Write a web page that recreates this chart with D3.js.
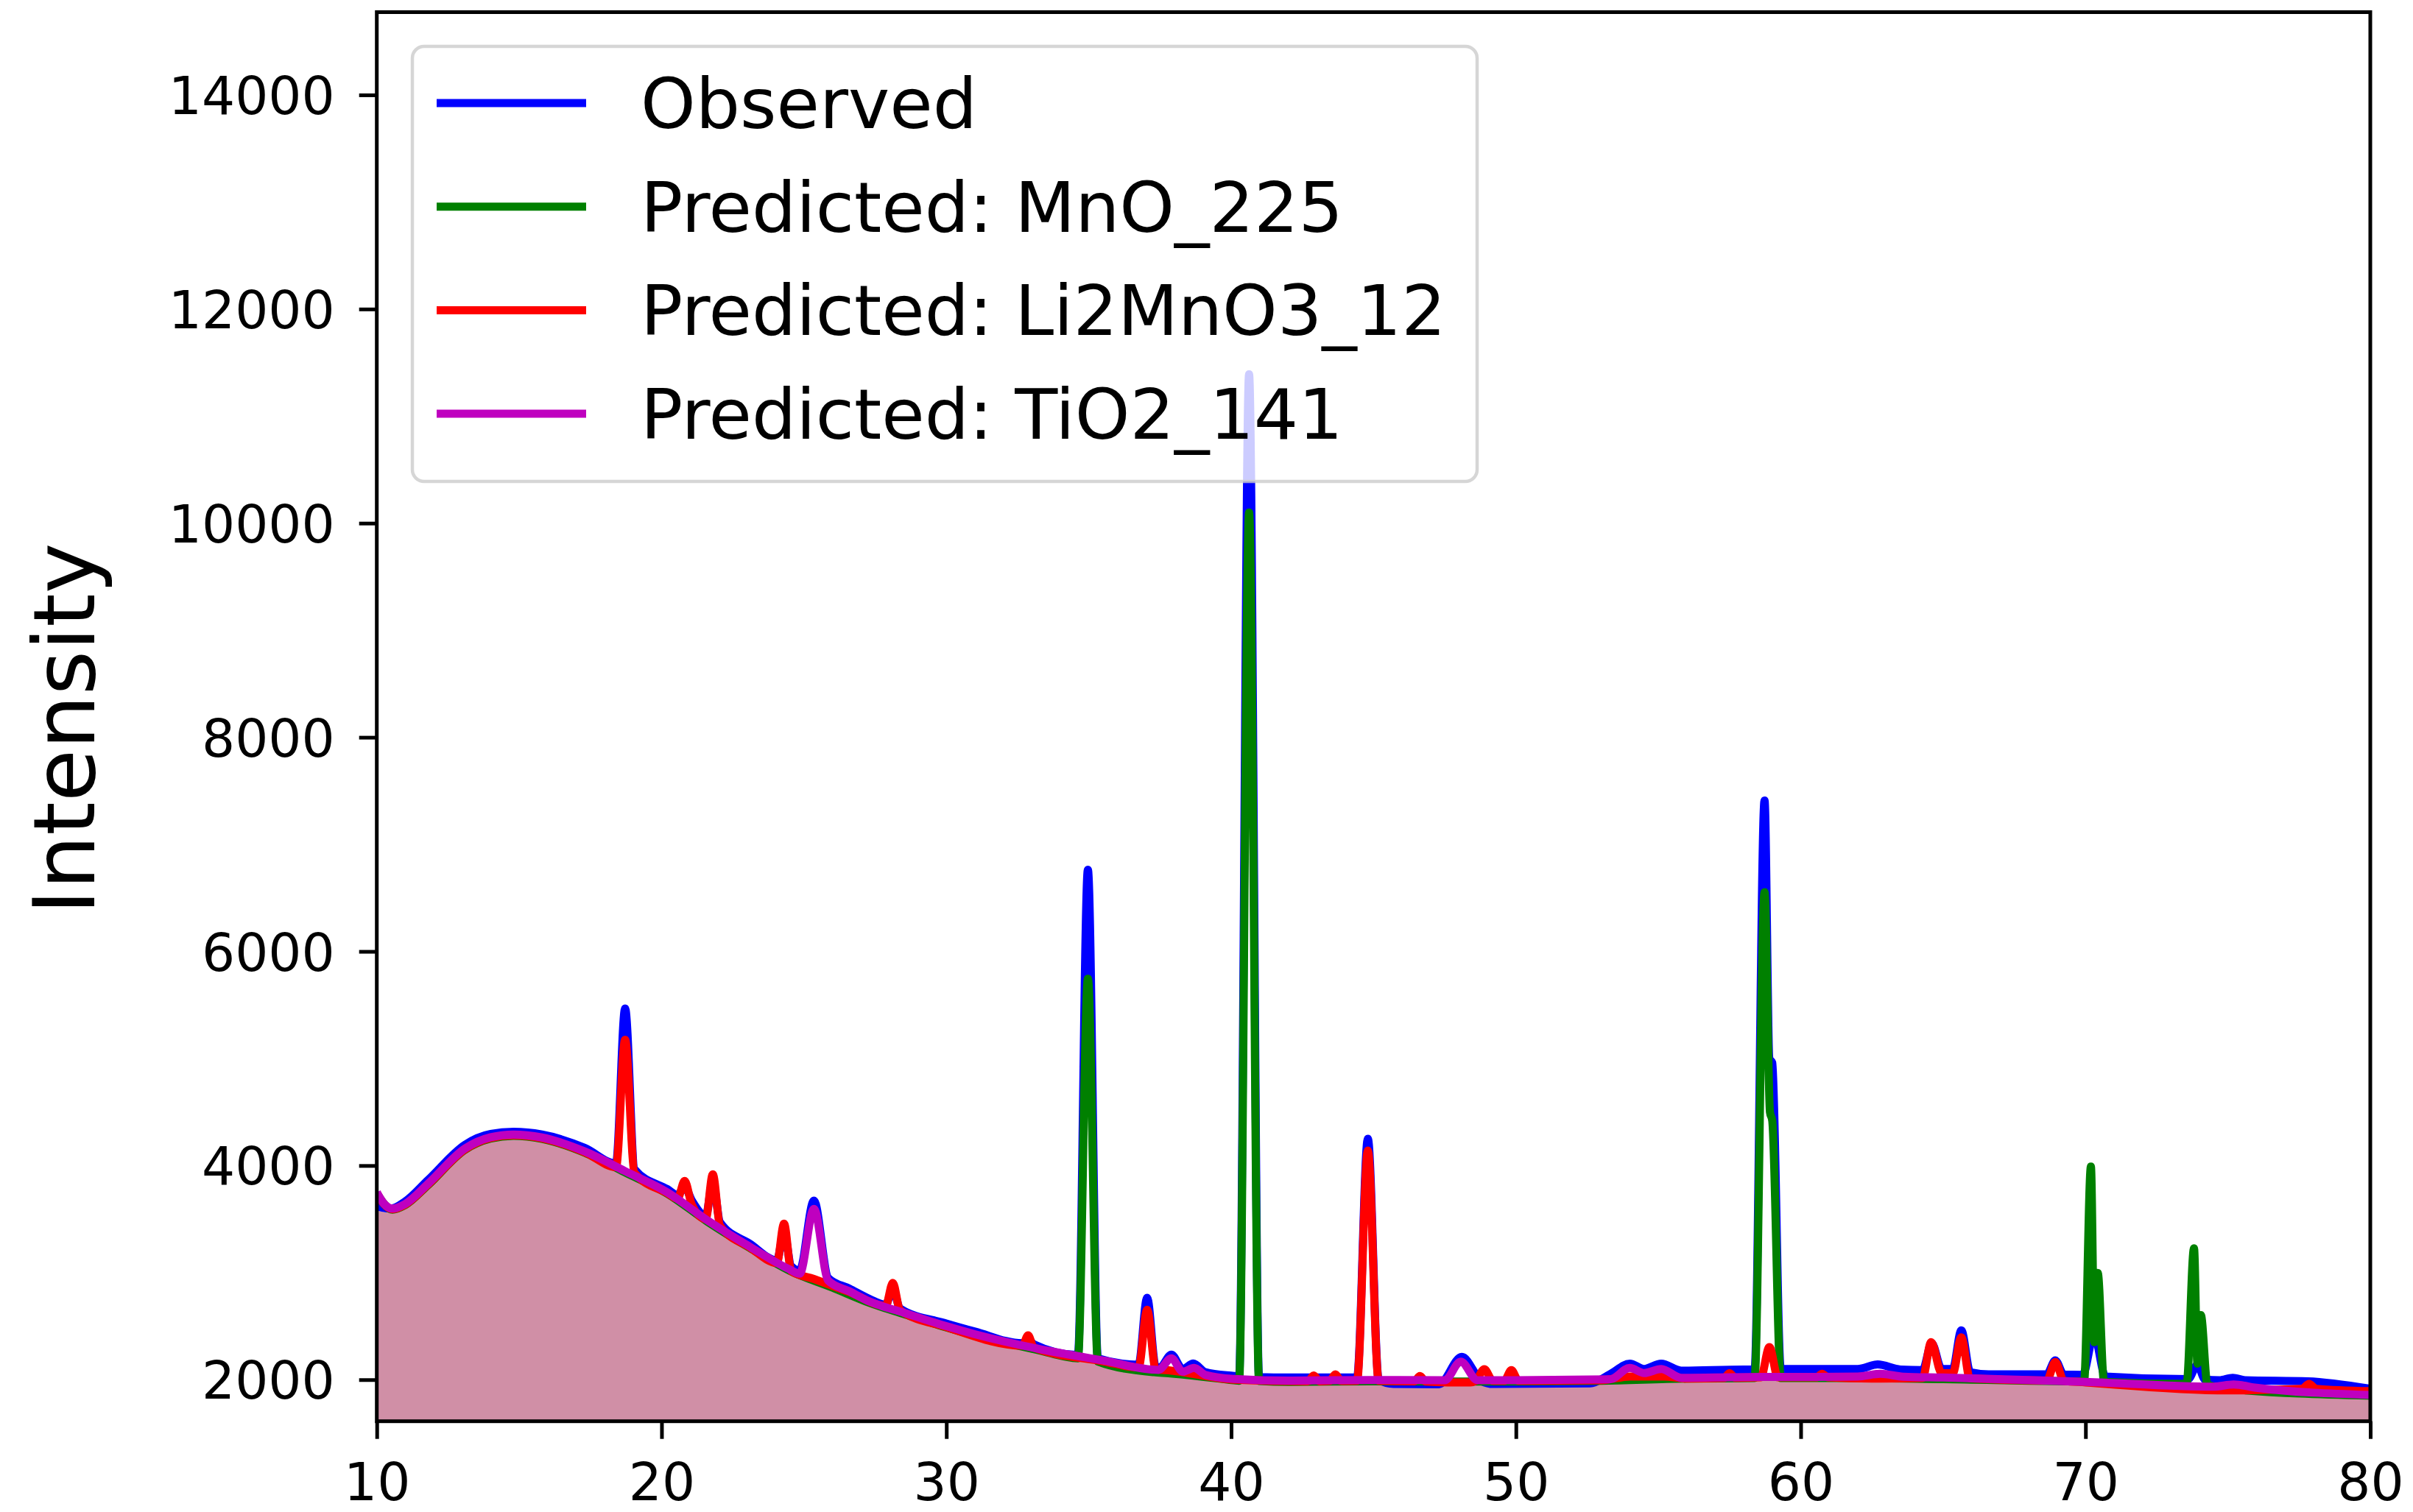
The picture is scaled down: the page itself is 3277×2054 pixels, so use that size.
<!DOCTYPE html>
<html>
<head>
<meta charset="utf-8">
<script src="https://cdnjs.cloudflare.com/ajax/libs/d3/7.8.5/d3.min.js"></script>
<style>
  body { margin: 0; background: #fff; }
  svg { display: block; }
  text { font-family: "DejaVu Sans", sans-serif; }
</style>
</head>
<body>
<div id="chart"></div>
<script>
// tick labels
var xTicks = [10, 20, 30, 40, 50, 60, 70, 80];
var yTicks = [2000, 4000, 6000, 8000, 10000, 12000, 14000];

var seriesNames = ['Observed', 'Predicted: MnO_225', 'Predicted: Li2MnO3_12', 'Predicted: TiO2_141'];
var seriesColors = ['#0000ff', '#008000', '#ff0000', '#bf00bf'];

// shaded background under the patterns [2theta, intensity]
var background = [
  [10, 3580], [10.5, 3560], [11, 3605], [11.8, 3795], [13.1, 4125], [14, 4230], [14.8, 4255],
  [15.8, 4228], [17.3, 4098], [18.7, 3915], [20.2, 3715], [21.6, 3455], [23.1, 3207], [24.5, 2995],
  [26, 2835], [27.3, 2695], [28.5, 2590], [30, 2465], [31, 2390], [33.2, 2255], [35.5, 2145],
  [37.8, 2040], [40.1, 1972], [42, 1957], [45, 1962], [50, 1960], [53, 1965], [56, 1985],
  [60, 1990], [65, 1985], [70, 1945], [75, 1885], [80, 1826]
];

var observed = [
  [10, 3620], [10.5, 3598], [11, 3665], [11.8, 3865], [13.1, 4195], [14, 4295], [14.8, 4315],
  [15.8, 4290], [17.3, 4165], [18.4, 4020], [18.72, 5467], [19.05, 3965], [20.2, 3780],
  [20.56, 3725], [20.81, 3800], [21.06, 3675], [21.55, 3530], [21.8, 3850], [22.05, 3470],
  [23.1, 3270], [24.05, 3115], [24.3, 3380], [24.55, 3060], [24.85, 3020], [25.35, 3672],
  [25.85, 2950], [26.6, 2850], [27.3, 2755], [27.87, 2700], [28.12, 2850], [28.37, 2665],
  [30, 2525], [31, 2450], [32.67, 2340], [32.87, 2380], [33.07, 2330], [34.62, 2230],
  [34.97, 6763], [35.32, 2200], [36.75, 2140], [37.05, 2765], [37.35, 2120], [37.5, 2115],
  [37.9, 2234], [38.3, 2100], [38.67, 2151], [39.1, 2070], [40.1, 2035], [40.28, 2030],
  [40.63, 11390], [40.98, 2025], [42, 2020], [44.42, 2020], [44.8, 4250], [45.18, 2000],
  [45.7, 1960], [47.3, 1958], [48.1, 2213], [48.8, 1985], [49.2, 1960], [52.6, 1965],
  [53.3, 2050], [54, 2150], [54.5, 2100], [55.1, 2150], [55.8, 2085], [58, 2095],
  [58.38, 2095], [58.73, 7410], [58.9, 5000], [59.0, 4960], [59.3, 2100], [60, 2100],
  [62, 2100], [62.7, 2142], [63.5, 2095], [64.28, 2090], [64.6, 2340], [64.95, 2100],
  [65.34, 2100], [65.64, 2460], [65.95, 2070], [66.6, 2050], [68.64, 2050], [68.94, 2180],
  [69.24, 2048], [69.9, 2045], [70.3, 2420], [70.7, 2030], [73.6, 2005], [73.93, 2140],
  [74.2, 2000], [74.7, 1995], [75.17, 2018], [75.6, 1995], [77.8, 1985], [80, 1915]
];

var mno = [
  [10, 3740], [10.55, 3588], [11, 3632], [11.8, 3818], [13.1, 4148], [14, 4252], [14.8, 4278],
  [15.8, 4250], [17.3, 4120], [18.7, 3938], [20.2, 3738], [21.6, 3478], [23.1, 3230],
  [24.5, 3018], [26, 2860], [27.3, 2718], [28.5, 2614], [30, 2488], [31, 2413], [33.2, 2278],
  [34.62, 2200], [34.97, 5746], [35.32, 2170], [37.3, 2070], [37.8, 2060], [40.1, 1995],
  [40.28, 1990], [40.63, 10100], [40.98, 1988], [42, 1980], [45, 1985], [50, 1983],
  [53, 1990], [56, 2010], [58.38, 2015], [58.73, 6554], [58.92, 4500], [59.0, 4420],
  [59.3, 2015], [62, 2015], [65, 2005], [69.95, 1985], [70.19, 3990], [70.31, 2350],
  [70.43, 2997], [70.65, 1980], [73.55, 1960], [73.81, 3228], [73.93, 2150], [74.05, 2604],
  [74.28, 1955], [75, 1915], [80, 1850]
];

var li2mno3 = [
  [10, 3745], [10.25, 3640], [10.55, 3592], [11, 3636], [11.8, 3822], [13.1, 4152], [14, 4258],
  [14.8, 4283], [15.8, 4255], [17.3, 4124], [18.4, 3985], [18.72, 5175], [19.05, 3930],
  [20.2, 3742], [20.56, 3690], [20.81, 3856], [21.06, 3635], [21.55, 3500], [21.8, 3918],
  [22.05, 3440], [23.1, 3235], [24.05, 3090], [24.3, 3457], [24.55, 3015], [25.35, 2940],
  [26.6, 2818], [27.87, 2688], [28.12, 2905], [28.37, 2650], [30, 2492], [32.67, 2318],
  [32.87, 2414], [33.07, 2300], [35.5, 2172], [36.75, 2115], [37.05, 2653], [37.35, 2098],
  [37.9, 2085], [40.1, 2000], [42.7, 1985], [42.9, 2040], [43.1, 1985], [43.46, 1988],
  [43.66, 2050], [43.86, 1988], [44.42, 1990], [44.8, 4140], [45.18, 1990], [46.43, 1985],
  [46.63, 2035], [46.83, 1982], [47.6, 1975], [48.4, 1975], [48.59, 1990], [48.89, 2098],
  [49.19, 1990], [49.59, 1990], [49.84, 2090], [50.09, 1990], [53, 1995], [54, 2030],
  [55.2, 2030], [56, 2010], [57.3, 2015], [57.5, 2060], [57.7, 2018], [58.6, 2022],
  [58.9, 2305], [59.2, 2022], [60.55, 2022], [60.75, 2055], [60.95, 2022], [62.8, 2010],
  [64.28, 2015], [64.58, 2350], [64.95, 2060], [65.34, 2060], [65.64, 2396], [65.94, 2012],
  [68.64, 1992], [68.94, 2165], [69.24, 1990], [70, 1975], [75, 1900], [77.6, 1915],
  [77.85, 1960], [78.1, 1915], [80, 1893]
];

var tio2 = [
  [10, 3750], [10.25, 3645], [10.55, 3598], [11, 3642], [11.8, 3830], [13.1, 4160], [14, 4265],
  [14.8, 4290], [15.8, 4262], [17.3, 4132], [18.7, 3950], [20.2, 3750], [21.6, 3490],
  [23.1, 3242], [24.5, 3030], [24.85, 2990], [25.35, 3595], [25.85, 2925], [26.6, 2825],
  [27.3, 2730], [28.5, 2626], [30, 2500], [31, 2425], [33.2, 2290], [35.5, 2180],
  [37.45, 2092], [37.9, 2200], [38.3, 2075], [38.7, 2110], [39.1, 2045], [40.1, 2007],
  [42, 1992], [45, 1997], [47.5, 1995], [48.06, 2168], [48.65, 1995], [50, 1995],
  [53.3, 2003], [54, 2110], [54.5, 2062], [55.1, 2100], [55.8, 2018], [58, 2025], [60, 2026],
  [62, 2030], [62.8, 2055], [63.6, 2028], [65, 2020], [70, 1980], [74.5, 1935],
  [75.2, 1955], [76, 1925], [80, 1858]
];

var allSeries = [observed, mno, li2mno3, tio2];

var width = 3277, height = 2054;
var plotLeft = 511.7, plotRight = 3219, plotTop = 16.5, plotBottom = 1930.7;

var svg = d3.select('#chart')
  .append('svg')
  .attr('width', width)
  .attr('height', height);

var x = d3.scaleLinear().domain([10, 80]).range([plotLeft, plotRight]);
var y = d3.scaleLinear().domain([1612, 14773]).range([plotBottom, plotTop]);

svg.append('clipPath')
  .attr('id', 'plot')
  .append('rect')
  .attr('x', plotLeft).attr('y', plotTop)
  .attr('width', plotRight - plotLeft).attr('height', plotBottom - plotTop);

var plot = svg.append('g').attr('clip-path', 'url(#plot)');

var area = d3.area()
  .x(function (d) { return x(d[0]); })
  .y0(plotBottom)
  .y1(function (d) { return y(d[1]); })
  .curve(d3.curveMonotoneX);

plot.append('path')
  .datum(background)
  .attr('d', area)
  .attr('fill', 'rgb(208,143,166)');

var line = d3.line()
  .x(function (d) { return x(d[0]); })
  .y(function (d) { return y(d[1]); })
  .curve(d3.curveMonotoneX);

allSeries.forEach(function (s, i) {
  plot.append('path')
    .datum(s)
    .attr('d', line)
    .attr('fill', 'none')
    .attr('stroke', seriesColors[i])
    .attr('stroke-width', 11)
    .attr('stroke-linejoin', 'round');
});

// axes
var xAxis = svg.append('g')
  .attr('transform', 'translate(0,' + plotBottom + ')')
  .call(d3.axisBottom(x).tickValues(xTicks).tickFormat(d3.format('d'))
    .tickSize(24).tickSizeOuter(0).tickPadding(33));
xAxis.select('.domain').remove();
xAxis.attr('font-size', 71).attr('font-family', 'DejaVu Sans');
xAxis.selectAll('line').attr('stroke', '#000').attr('stroke-width', 5);
xAxis.selectAll('text').attr('fill', '#000');

var yAxis = svg.append('g')
  .attr('transform', 'translate(' + plotLeft + ',0)')
  .call(d3.axisLeft(y).tickValues(yTicks).tickFormat(d3.format('d'))
    .tickSize(24).tickSizeOuter(0).tickPadding(33));
yAxis.select('.domain').remove();
yAxis.attr('font-size', 71).attr('font-family', 'DejaVu Sans');
yAxis.selectAll('line').attr('stroke', '#000').attr('stroke-width', 5);
yAxis.selectAll('text').attr('fill', '#000').attr('dy', '0.36em');

// spines
svg.append('rect')
  .attr('x', plotLeft).attr('y', plotTop)
  .attr('width', plotRight - plotLeft).attr('height', plotBottom - plotTop)
  .attr('fill', 'none')
  .attr('stroke', '#000')
  .attr('stroke-width', 5);

svg.append('text')
  .attr('transform', 'translate(128,990) rotate(-90)')
  .attr('text-anchor', 'middle')
  .attr('font-size', 116)
  .attr('fill', '#000')
  .text('Intensity');

// legend
var legend = svg.append('g');
legend.append('rect')
  .attr('x', 560).attr('y', 63)
  .attr('width', 1446).attr('height', 591)
  .attr('rx', 16)
  .attr('fill', '#fff').attr('fill-opacity', 0.8)
  .attr('stroke', '#cccccc').attr('stroke-opacity', 0.8)
  .attr('stroke-width', 4.5);

seriesNames.forEach(function (name, i) {
  var ry = 140 + i * 140.7;
  legend.append('line')
    .attr('x1', 593).attr('x2', 796)
    .attr('y1', ry).attr('y2', ry)
    .attr('stroke', seriesColors[i])
    .attr('stroke-width', 11);
  legend.append('text')
    .attr('x', 870).attr('y', ry + 34)
    .attr('font-size', 95)
    .attr('fill', '#000')
    .text(name);
});
</script>
</body>
</html>
